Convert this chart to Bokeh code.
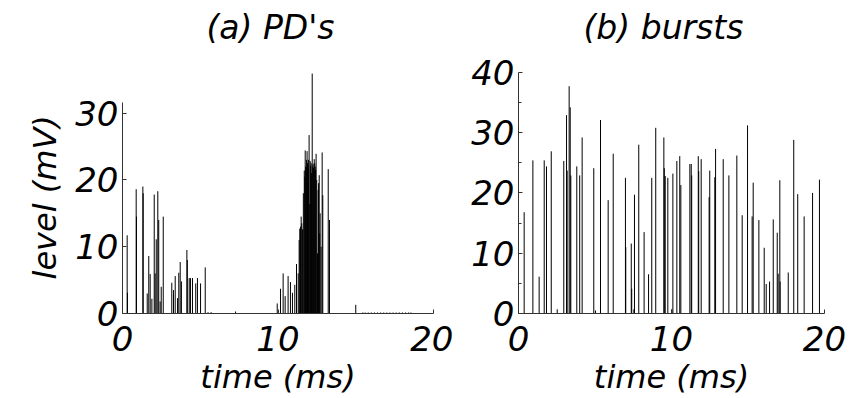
from bokeh.plotting import figure
from bokeh.layouts import row
from bokeh.models import Range1d, FixedTicker, Title
from bokeh.embed import file_html
from bokeh.resources import INLINE

# ---------------- data ----------------
# (a) PD's : time (ms) and level (mV)
pd_time = [0.30, 0.32, 0.88, 0.90, 1.31, 1.33, 1.59, 1.69, 1.78, 1.89, 2.04, 2.10, 2.17,
           2.27, 2.33, 2.42, 2.49, 2.62, 3.17, 3.28, 3.39, 3.54, 3.62, 3.71, 3.79, 4.14,
           4.17, 4.29, 4.37, 4.50, 4.71, 4.82, 5.02, 5.32, 5.50, 5.70, 7.27,
           9.95, 10.16, 10.33, 10.46, 10.65, 10.80, 10.93, 11.08, 11.19, 11.30, 11.36,
           11.40, 11.45, 11.49, 11.53, 11.58, 11.63, 11.69, 11.72, 11.75, 11.78, 11.81,
           11.84, 11.87, 11.90, 11.94, 11.97, 12.00, 12.04, 12.07, 12.10, 12.13, 12.16,
           12.20, 12.23, 12.26, 12.29, 12.33, 12.36, 12.39, 12.42, 12.45, 12.49, 12.54,
           12.58, 12.61, 12.65, 12.68, 12.71, 12.77, 12.84, 12.88, 13.23, 13.31,
           15.00, 15.45, 15.60, 15.80, 16.00, 16.20, 16.40, 16.60, 16.80, 17.00, 17.20,
           17.40, 17.60, 17.80, 18.00, 18.20, 18.40, 18.55]
pd_level = [11.7, 3.1, 18.6, 14.5, 19.0, 18.0, 3.0, 8.6, 5.9, 2.2, 17.8, 6.0, 11.1,
            18.3, 14.0, 1.8, 4.0, 14.5, 4.6, 3.5, 5.6, 2.3, 6.1, 7.7, 4.8, 9.5,
            8.0, 5.3, 5.3, 5.3, 4.5, 5.3, 4.5, 6.9, 0.2, 0.2, 0.3,
            1.5, 3.7, 6.0, 2.6, 5.6, 4.7, 3.1, 4.3, 7.4, 6.0, 11.0,
            12.7, 13.0, 14.5, 13.5, 12.6, 18.0, 21.4, 20.5, 24.4, 22.0, 21.9,
            23.0, 24.3, 22.5, 21.9, 23.0, 26.7, 16.4, 22.8, 22.1, 22.5, 21.0,
            35.9, 22.0, 22.4, 21.8, 23.1, 22.5, 22.0, 21.5, 23.9, 20.0, 9.0,
            18.5, 19.5, 20.7, 12.0, 15.0, 10.0, 24.1, 17.7, 21.6, 14.0,
            1.3, 0.15, 0.15, 0.15, 0.15, 0.15, 0.15, 0.15, 0.15, 0.15, 0.15,
            0.15, 0.15, 0.15, 0.15, 0.15, 0.15, 0.15]

# (b) bursts : time (ms) and level (mV)
burst_time = [0.37, 0.94, 1.35, 1.68, 1.83, 2.14, 2.53, 2.96, 3.14, 3.18, 3.31, 3.38,
              3.42, 3.81, 4.00, 4.16, 4.92, 5.03, 5.36, 5.86, 6.19, 6.99, 7.01, 7.37,
              7.40, 7.54, 7.58, 7.86, 8.21, 8.50, 8.71, 8.97, 9.50, 9.53, 9.59, 9.76,
              10.02, 10.09, 10.35, 10.54, 10.61, 11.20, 11.29, 11.32, 11.75, 11.78,
              11.94, 12.46, 12.50, 12.83, 12.88, 13.38, 13.75, 14.27, 14.62, 14.97,
              15.27, 15.34, 15.71, 16.06, 16.19, 16.41, 16.65, 16.91, 16.97, 17.08,
              17.10, 17.63, 17.99, 18.25, 18.67, 19.22, 19.67]
burst_level = [16.8, 25.4, 6.1, 25.4, 24.4, 26.9, 0.7, 25.3, 32.9, 23.7, 37.7, 34.2,
               22.9, 24.4, 22.9, 29.2, 24.1, 0.5, 32.1, 18.8, 26.5, 22.5, 11.0, 11.6,
               4.1, 0.7, 19.7, 28.0, 13.5, 6.5, 22.5, 30.8, 29.2, 24.1, 22.8, 22.5,
               0.7, 23.2, 25.3, 26.1, 21.3, 24.8, 24.8, 22.9, 26.1, 23.6,
               25.6, 19.3, 23.7, 22.6, 27.3, 25.6, 22.9, 26.2, 16.3, 31.2,
               16.1, 21.7, 15.5, 10.9, 4.9, 5.3, 15.6, 13.4, 6.6, 22.1,
               5.3, 6.8, 28.8, 19.8, 16.1, 20.0, 22.2]

titles = ["(a) PD's", "(b) bursts"]
x_label = "time (ms)"
y_label = "level (mV)"
x_ticks = [0, 10, 20]
pd_y_ticks = [0, 10, 20, 30]
burst_y_ticks = [0, 10, 20, 30, 40]
burst_y_minor = [5, 15, 25, 35]

FONT = "DejaVu Sans"
TICK_FS = "34px"
TITLE_FS = "33px"
LABEL_FS = "32px"
H = 398
TOP = 50


def make_panel(title, xs, ys, width, left, frame_w, y_end, y_bounds, y_ticks, y_minor,
               title_offset):
    p = figure(width=width, height=H, output_backend="svg", toolbar_location=None,
               x_range=Range1d(0, 20), y_range=Range1d(0, y_end),
               min_border_left=left, min_border_right=width - left - frame_w,
               min_border_top=TOP, min_border_bottom=H - 314)
    p.title.text = title
    p.title.text_font = FONT
    p.title.text_font_style = "italic"
    p.title.text_font_size = TITLE_FS
    p.title.align = "left"
    p.title.offset = title_offset
    p.title.text_color = "black"
    p.segment(x0=xs, y0=[0] * len(xs), x1=xs, y1=ys, line_color="black", line_width=1)
    p.grid.visible = False
    p.outline_line_color = None
    for ax in (p.xaxis[0], p.yaxis[0]):
        ax.axis_line_color = "#333333"
        ax.major_tick_line_color = "#333333"
        ax.minor_tick_line_color = "#333333"
        ax.major_tick_in = 4
        ax.major_tick_out = 0
        ax.minor_tick_in = 3
        ax.minor_tick_out = 0
        ax.major_label_text_font = FONT
        ax.major_label_text_font_style = "italic"
        ax.major_label_text_font_size = TICK_FS
        ax.major_label_text_color = "black"
        ax.axis_label_text_font = FONT
        ax.axis_label_text_font_style = "italic"
        ax.axis_label_text_font_size = LABEL_FS
        ax.axis_label_text_color = "black"
    p.xaxis.ticker = FixedTicker(ticks=x_ticks)
    p.xaxis.bounds = (0, 20)
    p.xaxis.axis_label = x_label
    p.xaxis.major_label_standoff = 12
    p.xaxis.axis_label_standoff = 4
    p.yaxis.ticker = FixedTicker(ticks=y_ticks, minor_ticks=y_minor)
    p.yaxis.bounds = y_bounds
    p.yaxis.major_label_standoff = 4
    return p


pa = make_panel(titles[0], pd_time, pd_level, 453, 122, 311, (314 - TOP) / 6.733,
                (0, 31.6), pd_y_ticks, [], 84)
pb = make_panel(titles[1], burst_time, burst_level, 396, 65, 306, (314 - TOP) / 6.075,
                (0, 40), burst_y_ticks, burst_y_minor, 65)

# y-axis label of panel (a), as a side title so it can sit a little low like the original
pa.add_layout(Title(text=y_label, align="left", offset=34, standoff=14,
                    vertical_align="top",
                    text_font=FONT, text_font_style="italic",
                    text_font_size=LABEL_FS, text_color="black"), "left")

layout = row(pa, pb)
open("out.html", "w").write(file_html(layout, INLINE))
